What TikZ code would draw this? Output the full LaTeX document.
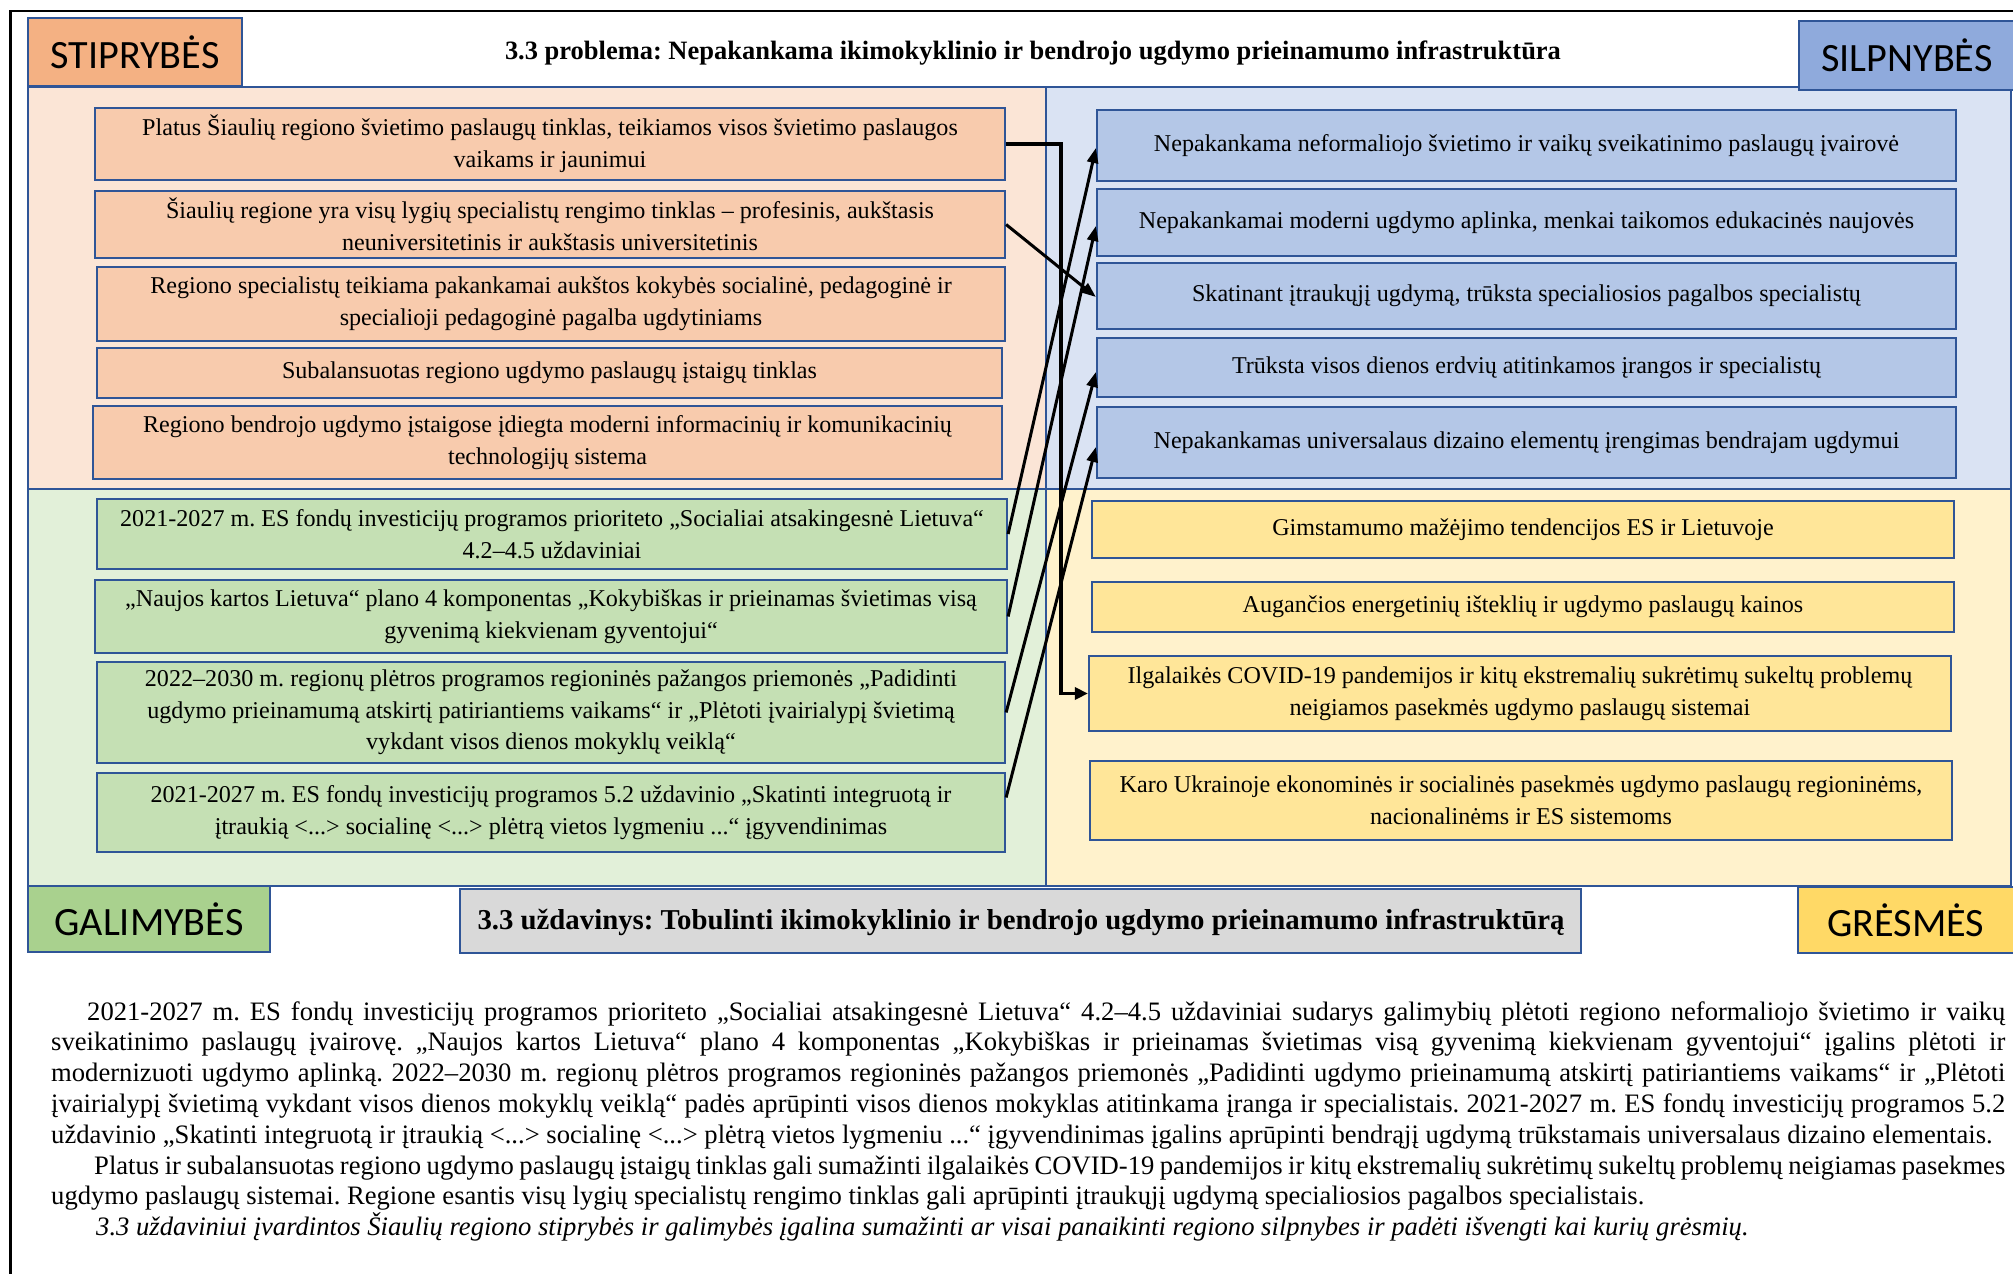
\documentclass[tikz,border=0pt]{standalone}
\usepackage{fontspec}
\setmainfont{Liberation Serif}
\newfontfamily\labelfamily{Carlito}
\usetikzlibrary{arrows.meta,calc}

\definecolor{bordc}{HTML}{2F5597}
\definecolor{sreg}{HTML}{FBE5D6}
\definecolor{sboxc}{HTML}{F8CBAD}
\definecolor{slab}{HTML}{F4B183}
\definecolor{wreg}{HTML}{DAE3F3}
\definecolor{wboxc}{HTML}{B4C7E7}
\definecolor{wlab}{HTML}{8FAADC}
\definecolor{oreg}{HTML}{E2F0D9}
\definecolor{oboxc}{HTML}{C5E0B4}
\definecolor{olab}{HTML}{A9D18E}
\definecolor{treg}{HTML}{FFF2CC}
\definecolor{tboxc}{HTML}{FFE699}
\definecolor{tlab}{HTML}{FFD966}
\definecolor{taskc}{HTML}{D9D9D9}

\newcommand\boxfont{\rmfamily\fontsize{\fsbox pt}{31.7pt}\selectfont}
\newcommand\ttlfont{\rmfamily\fontsize{\fsttl pt}{30pt}\selectfont\bfseries}
\newcommand\taskfont{\rmfamily\fontsize{\fstask pt}{30pt}\selectfont\bfseries}
\newcommand\parfont{\rmfamily\fontsize{\fspar pt}{30.8pt}\selectfont}
\newcommand\labfont{\labelfamily\fontsize{\fslab pt}{48pt}\selectfont}

\tikzset{
  region/.style={draw=bordc, line width=2pt},
  swbox/.style={draw=bordc, line width=2.2pt, align=center, inner sep=0pt, font=\boxfont},
  labbox/.style={draw=bordc, line width=2.2pt, inner sep=0pt, font=\labfont},
  pline/.style={anchor=base west, inner sep=0pt, font=\parfont},
  arr/.style={line width=3pt, -{Triangle[length=15pt,width=11pt]}},
  elbowarr/.style={line width=3.2pt, -{Triangle[length=13pt,width=12pt]}},
}

\begin{document}
\frenchspacing
% --- font size calibration to the reference widths ---
\setbox0=\hbox{\fontsize{10pt}{12pt}\selectfont Subalansuotas regiono ugdymo paslaugų įstaigų tinklas}%
\edef\tmpw{\the\wd0}\pgfmathsetmacro\fsbox{5350/\tmpw}%
\setbox0=\hbox{\fontsize{10pt}{12pt}\selectfont\bfseries 3.3 problema: Nepakankama ikimokyklinio ir bendrojo ugdymo prieinamumo infrastruktūra}%
\edef\tmpw{\the\wd0}\pgfmathsetmacro\fsttl{10560/\tmpw}%
\setbox0=\hbox{\fontsize{10pt}{12pt}\selectfont\bfseries 3.3 uždavinys: Tobulinti ikimokyklinio ir bendrojo ugdymo prieinamumo infrastruktūrą}%
\edef\tmpw{\the\wd0}\pgfmathsetmacro\fstask{10870/\tmpw}%
\setbox0=\hbox{\fontsize{10pt}{12pt}\selectfont ugdymo paslaugų sistemai. Regione esantis visų lygių specialistų rengimo tinklas gali aprūpinti įtraukųjį ugdymą specialiosios pagalbos specialistais.}%
\edef\tmpw{\the\wd0}\pgfmathsetmacro\fspar{15930/\tmpw}%
\setbox0=\hbox{\labelfamily\fontsize{10pt}{12pt}\selectfont STIPRYBĖS}%
\edef\tmpw{\the\wd0}\pgfmathsetmacro\fslab{1690/\tmpw}%
\begin{tikzpicture}[x=1pt,y=-1pt]
\useasboundingbox (0,0) rectangle (2013,1274);

% page frame
\draw[line width=2.5pt] (10.5,1290) -- (10.5,11) -- (2030,11);

% regions
\draw[region, fill=sreg] (28,87) rectangle (1046,489);
\draw[region, fill=wreg] (1046,87) rectangle (2011,489);
\draw[region, fill=oreg] (28,489) rectangle (1046,886);
\draw[region, fill=treg] (1046,489) rectangle (2011,886);

% corner labels
\node[labbox, fill=slab, minimum width=214, minimum height=68] (lS) at (135,52) {STIPRYBĖS};
\node[labbox, fill=wlab, minimum width=216, minimum height=69] (lW) at (1907,55.5) {SILPNYBĖS};
\node[labbox, fill=olab, minimum width=242, minimum height=66] (lO) at (149,919) {GALIMYBĖS};
\node[labbox, fill=tlab, minimum width=216, minimum height=66] (lT) at (1906,920) {GRĖSMĖS};

% title and task
\node[anchor=base, inner sep=0pt, font=\ttlfont] (ttl) at (1033,59) {3.3 problema: Nepakankama ikimokyklinio ir bendrojo ugdymo prieinamumo infrastruktūra};
\node[draw=bordc, line width=2.2pt, fill=taskc, minimum width=1121, minimum height=64] (taskbox) at (1020.5,921) {};
\node[anchor=base, inner sep=0pt, font=\taskfont] (tasktxt) at (1021,929.5) {3.3 uždavinys: Tobulinti ikimokyklinio ir bendrojo ugdymo prieinamumo infrastruktūrą};

% strengths
\node[swbox, fill=sboxc, minimum width=910, minimum height=72] (s1) at (550,144) {Platus Šiaulių regiono švietimo paslaugų tinklas, teikiamos visos švietimo paslaugos\\vaikams ir jaunimui};
\node[swbox, fill=sboxc, minimum width=910, minimum height=67] (s2) at (550,224.5) {Šiaulių regione yra visų lygių specialistų rengimo tinklas – profesinis, aukštasis\\neuniversitetinis ir aukštasis universitetinis};
\node[swbox, fill=sboxc, minimum width=908, minimum height=74] (s3) at (551,304) {Regiono specialistų teikiama pakankamai aukštos kokybės socialinė, pedagoginė ir\\specialioji pedagoginė pagalba ugdytiniams};
\node[swbox, fill=sboxc, minimum width=905, minimum height=50] (s4) at (549.5,373) {Subalansuotas regiono ugdymo paslaugų įstaigų tinklas};
\node[swbox, fill=sboxc, minimum width=909, minimum height=73] (s5) at (547.5,442.5) {Regiono bendrojo ugdymo įstaigose įdiegta moderni informacinių ir komunikacinių\\technologijų sistema};

% weaknesses
\node[swbox, fill=wboxc, minimum width=859, minimum height=71] (w1) at (1526.5,145.5) {Nepakankama neformaliojo švietimo ir vaikų sveikatinimo paslaugų įvairovė};
\node[swbox, fill=wboxc, minimum width=859, minimum height=67] (w2) at (1526.5,222.5) {Nepakankamai moderni ugdymo aplinka, menkai taikomos edukacinės naujovės};
\node[swbox, fill=wboxc, minimum width=859, minimum height=66] (w3) at (1526.5,296) {Skatinant įtraukųjį ugdymą, trūksta specialiosios pagalbos specialistų};
\node[swbox, fill=wboxc, minimum width=859, minimum height=59] (w4) at (1526.5,367.5) {Trūksta visos dienos erdvių atitinkamos įrangos ir specialistų};
\node[swbox, fill=wboxc, minimum width=859, minimum height=71] (w5) at (1526.5,442.5) {Nepakankamas universalaus dizaino elementų įrengimas bendrajam ugdymui};

% opportunities
\node[swbox, fill=oboxc, minimum width=910, minimum height=70] (o1) at (552,534) {2021-2027 m. ES fondų investicijų programos prioriteto „Socialiai atsakingesnė Lietuva“\\4.2–4.5 uždaviniai};
\node[swbox, fill=oboxc, minimum width=912, minimum height=73] (o2) at (551,616.5) {„Naujos kartos Lietuva“ plano 4 komponentas „Kokybiškas ir prieinamas švietimas visą\\gyvenimą kiekvienam gyventojui“};
\node[swbox, fill=oboxc, minimum width=908, minimum height=101] (o3) at (551,712.5) {2022–2030 m. regionų plėtros programos regioninės pažangos priemonės „Padidinti\\ugdymo prieinamumą atskirtį patiriantiems vaikams“ ir „Plėtoti įvairialypį švietimą\\vykdant visos dienos mokyklų veiklą“};
\node[swbox, fill=oboxc, minimum width=908, minimum height=79] (o4) at (551,812.5) {2021-2027 m. ES fondų investicijų programos 5.2 uždavinio „Skatinti integruotą ir\\įtraukią <...> socialinę <...> plėtrą vietos lygmeniu ...“ įgyvendinimas};

% threats
\node[swbox, fill=tboxc, minimum width=862, minimum height=57] (t1) at (1523,529.5) {Gimstamumo mažėjimo tendencijos ES ir Lietuvoje};
\node[swbox, fill=tboxc, minimum width=862, minimum height=50] (t2) at (1523,607) {Augančios energetinių išteklių ir ugdymo paslaugų kainos};
\node[swbox, fill=tboxc, minimum width=862, minimum height=75] (t3) at (1520,693.5) {Ilgalaikės COVID-19 pandemijos ir kitų ekstremalių sukrėtimų sukeltų problemų\\neigiamos pasekmės ugdymo paslaugų sistemai};
\node[swbox, fill=tboxc, minimum width=862, minimum height=79] (t4) at (1521,800.5) {Karo Ukrainoje ekonominės ir socialinės pasekmės ugdymo paslaugų regioninėms,\\nacionalinėms ir ES sistemoms};

% connectors
\coordinate (elb) at (1061,144);
\draw[elbowarr] (s1.east) -- (elb) |- (t3.west);
\draw[arr] (s2.east) -- ($(w3.west)+(0,1)$);
\draw[arr] (o1.east) -- ($(w1.west)+(0,2.5)$);
\draw[arr] (o2.east) -- ($(w2.west)+(0,3.5)$);
\draw[arr] (o3.east) -- ($(w4.west)+(0,4.5)$);
\draw[arr] ($(o4.east)+(0,-15)$) -- ($(w5.west)+(0,4.5)$);

% paragraph text
\node[pline] (p1) at (87,1020) {\makebox[1918pt][s]{2021-2027 m. ES fondų investicijų programos prioriteto „Socialiai atsakingesnė Lietuva“ 4.2–4.5 uždaviniai sudarys galimybių plėtoti regiono neformaliojo švietimo ir vaikų}};
\node[pline] (p2) at (51,1050.8) {\makebox[1954pt][s]{sveikatinimo paslaugų įvairovę. „Naujos kartos Lietuva“ plano 4 komponentas „Kokybiškas ir prieinamas švietimas visą gyvenimą kiekvienam gyventojui“ įgalins plėtoti ir}};
\node[pline] (p3) at (51,1081.6) {\makebox[1954pt][s]{modernizuoti ugdymo aplinką. 2022–2030 m. regionų plėtros programos regioninės pažangos priemonės „Padidinti ugdymo prieinamumą atskirtį patiriantiems vaikams“ ir „Plėtoti}};
\node[pline] (p4) at (51,1112.4) {\makebox[1954pt][s]{įvairialypį švietimą vykdant visos dienos mokyklų veiklą“ padės aprūpinti visos dienos mokyklas atitinkama įranga ir specialistais. 2021-2027 m. ES fondų investicijų programos 5.2}};
\node[pline] (p5) at (51,1143.2) {uždavinio „Skatinti integruotą ir įtraukią <...> socialinę <...> plėtrą vietos lygmeniu ...“ įgyvendinimas įgalins aprūpinti bendrąjį ugdymą trūkstamais universalaus dizaino elementais.};
\node[pline] (p6) at (94,1174) {\makebox[1911pt][s]{Platus ir subalansuotas regiono ugdymo paslaugų įstaigų tinklas gali sumažinti ilgalaikės COVID-19 pandemijos ir kitų ekstremalių sukrėtimų sukeltų problemų neigiamas pasekmes}};
\node[pline] (p7) at (51,1204.8) {ugdymo paslaugų sistemai. Regione esantis visų lygių specialistų rengimo tinklas gali aprūpinti įtraukųjį ugdymą specialiosios pagalbos specialistais.};
\node[pline] (p8) at (96,1235.6) {\itshape 3.3 uždaviniui įvardintos Šiaulių regiono stiprybės ir galimybės įgalina sumažinti ar visai panaikinti regiono silpnybes ir padėti išvengti kai kurių grėsmių.};
\end{tikzpicture}
\end{document}
